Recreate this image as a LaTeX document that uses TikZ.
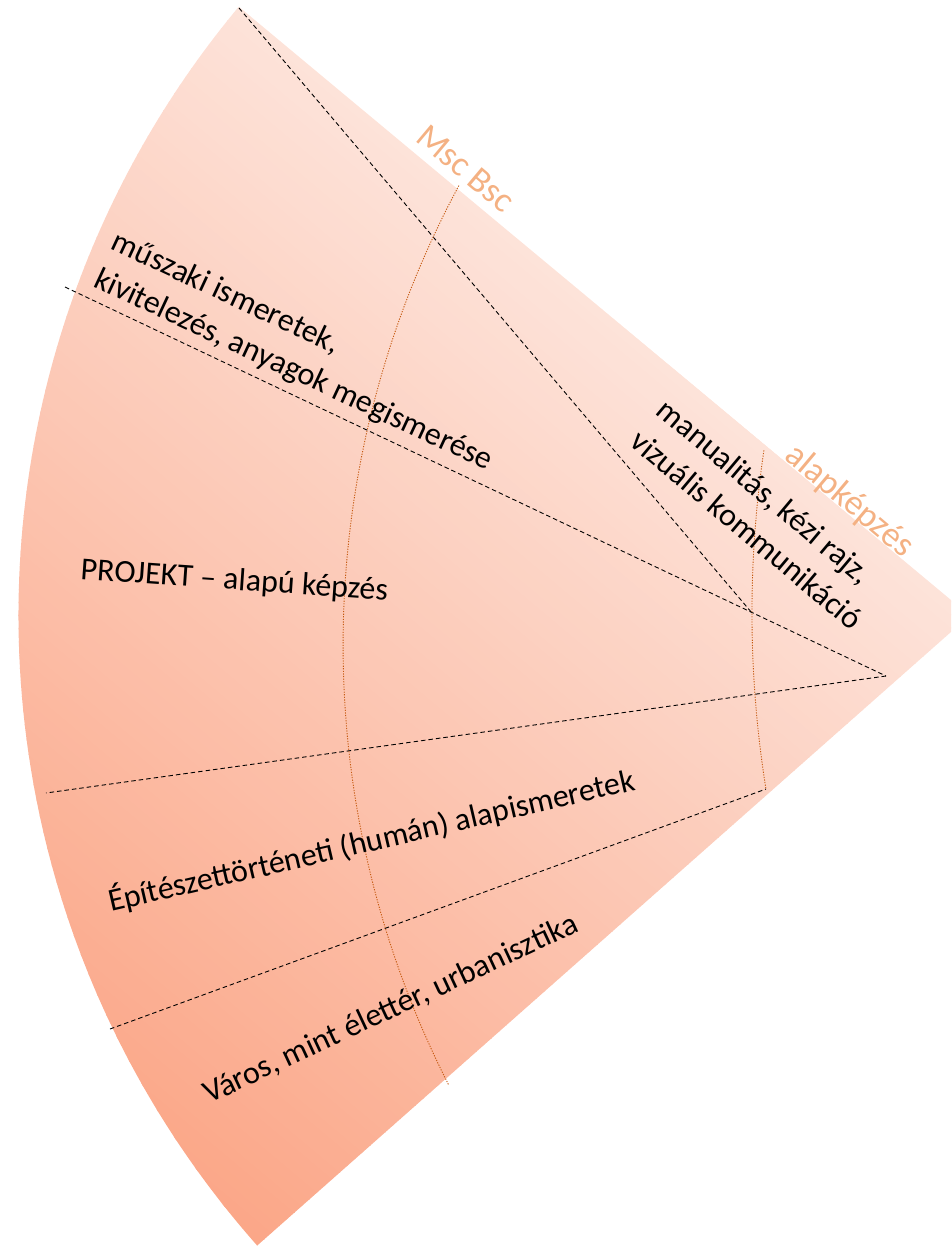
\documentclass[tikz,border=0pt]{standalone}
\usepackage{fontspec}
\setmainfont{Carlito}
\definecolor{fanlight}{RGB}{253,228,219}
\definecolor{fandark}{RGB}{251,166,135}
\definecolor{orlabel}{RGB}{244,177,131}
\definecolor{orarc}{RGB}{197,90,17}
\begin{document}
\begin{tikzpicture}[x=1pt,y=-1pt,
  guide/.style={black, line width=0.9pt, dash pattern=on 4.5pt off 3pt},
  levelarc/.style={orarc, line width=0.9pt, dash pattern=on 1.2pt off 1.4pt},
  orlbl/.style={orlabel, inner sep=0pt, font=\fontsize{35.5}{41}\selectfont},
  txt/.style={black, inner sep=0pt, font=\fontsize{32}{41}\selectfont}]
\useasboundingbox (0,0) rectangle (951,1248);
\clip (0,0) rectangle (951,1248);
\coordinate (apex) at (969.6,615.5);
\coordinate (topv) at (238.8,6.7);
% fan with gradient
\begin{scope}
\clip (apex) -- (topv) arc[start angle=219.8, end angle=138.5, radius=951] -- cycle;
\begin{scope}[rotate=50]
\foreach \i in {0,...,96} {
  \pgfmathsetmacro\pa{-800+10*\i}
  \pgfmathsetmacro\pb{\pa+11}
  \pgfmathsetmacro\pc{min(100,\i*100/96)}
  \fill[fanlight!\pc!fandark] (\pa,-2000) -- (\pb,-2000) -- (\pb,2000) -- (\pa,2000) -- cycle;
}
\end{scope}
\end{scope}
% dashed guides
\coordinate (l1a) at (239,8);
\coordinate (l1b) at (752,613);
\coordinate (l2a) at (65,287);
\coordinate (hub) at (886,676);
\coordinate (l3b) at (46,793);
\coordinate (l4a) at (110,1029);
\coordinate (l4b) at (766,789);
\draw[guide] (l1a) -- (l1b);
\draw[guide] (l2a) -- (hub);
\draw[guide] (hub) -- (l3b);
\draw[guide] (l4a) -- (l4b);
% level arcs
\coordinate (mscTop) at (458.9,185.6);
\draw[levelarc] (mscTop) arc[start angle=208.3, end angle=153.0, radius=969];
\coordinate (alapTop) at (763.9,450.4);
\draw[levelarc] (alapTop) arc[start angle=188.4, end angle=170.9, radius=1113];
% labels
\node[orlbl, anchor=base west, rotate=-40] (msc) at (414,140) {Msc Bsc};
\node[orlbl, anchor=base west, rotate=-40] (alap) at (783,458) {alapképzés};
\node[txt, align=left, rotate=-40] (manual) at (760,514) {manualitás, kézi rajz,\\vizuális kommunikáció};
\node[txt, align=left, rotate=-25] (muszaki) at (302,352) {műszaki ismeretek,\\kivitelezés, anyagok megismerése};
\node[txt, anchor=base west, rotate=-4] (projekt) at (80,579) {PROJEKT – alapú képzés};
\node[txt, anchor=base west, rotate=13.1] (epit) at (111,912) {Építészettörténeti (humán) alapismeretek};
\node[txt, anchor=base west, rotate=25] (varos) at (209,1104) {Város, mint élettér, urbanisztika};
\end{tikzpicture}
\end{document}
